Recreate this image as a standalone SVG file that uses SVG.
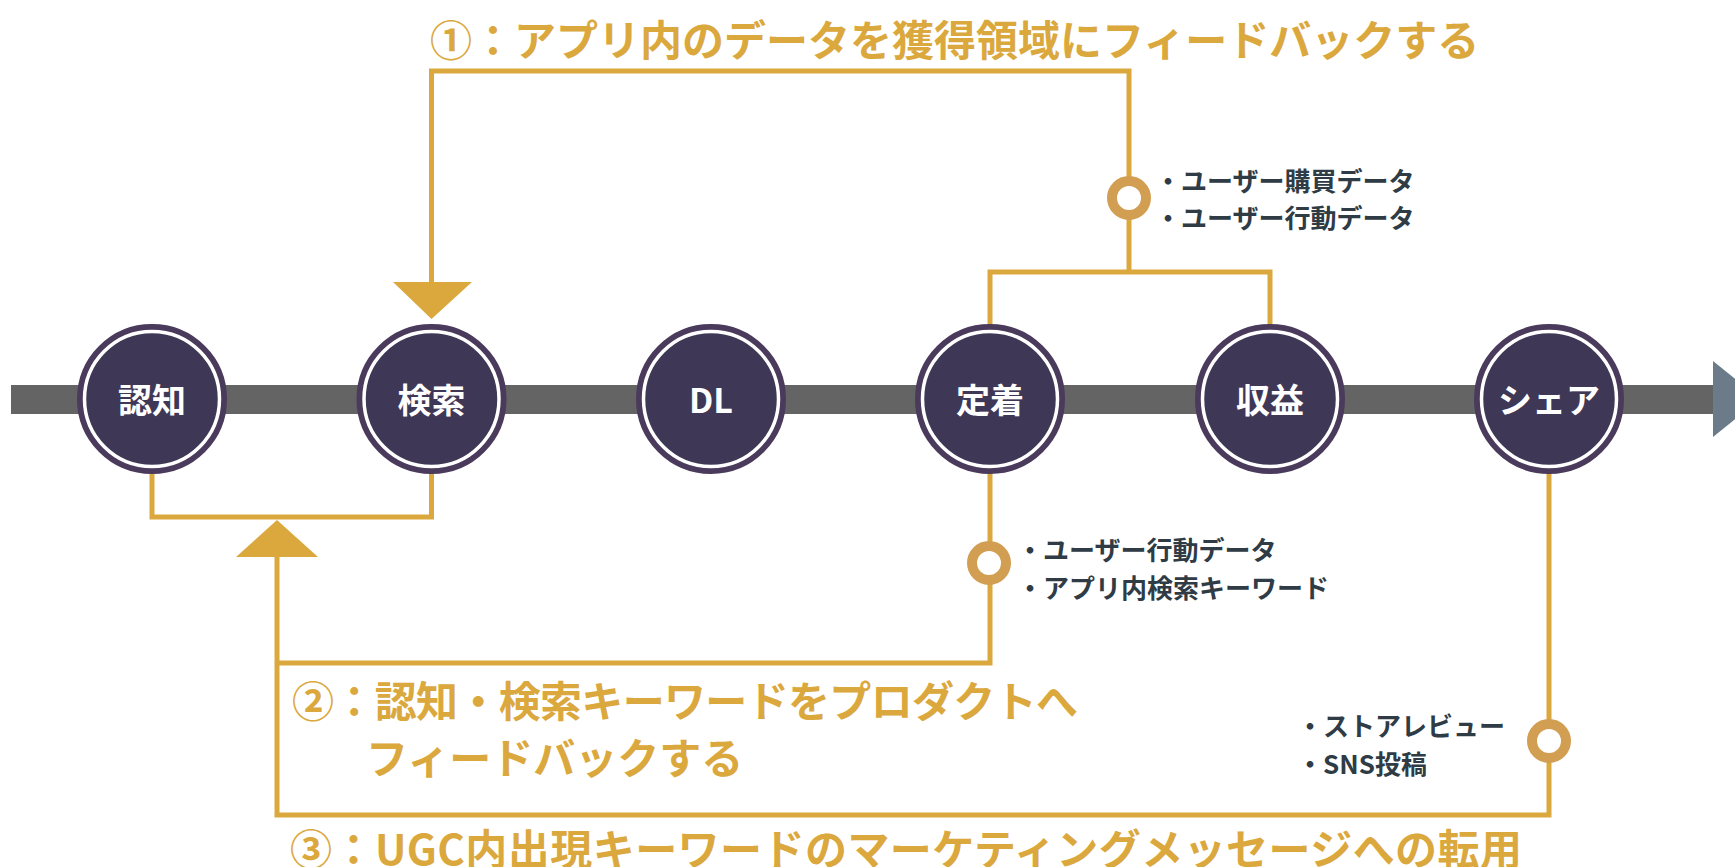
<svg xmlns="http://www.w3.org/2000/svg" width="1735" height="867" viewBox="0 0 1735 867">
<style>
.ln{fill:none;stroke:#DBA83E;stroke-width:5}
.tri{fill:#DBA83E}
.ring{fill:#fff;stroke:#D29E52;stroke-width:10}
.outer{fill:#3F3756;stroke:#4A3A5B;stroke-width:6}
.inner{fill:none;stroke:#fff;stroke-width:3.5}
.nl{font-family:"Noto Sans CJK JP","Noto Sans",sans-serif;font-weight:700;font-size:34px;fill:#fff;text-anchor:middle;dominant-baseline:central}
.ttl{font-family:"Noto Sans CJK JP","Noto Sans",sans-serif;font-weight:700;font-size:42px;fill:#DBA83E;dominant-baseline:central}
.sm{font-family:"Noto Sans CJK JP","Noto Sans",sans-serif;font-weight:700;font-size:26px;fill:#2F3B45;dominant-baseline:central}
</style>
<rect width="1735" height="867" fill="#fff"/>
<g id="timeline">
<rect x="11" y="385" width="1704" height="29" fill="#646464"/>
<polygon points="1713,361 1760,399 1713,437" fill="#6B7B89"/>
</g>
<g id="connectors">
<path class="ln" d="M431.5 284 V71 H1129 V272"/>
<path class="ln" d="M990 330 V272 H1270 V330"/>
<path class="ln" d="M152 470 V517 H431.5 V470"/>
<path class="ln" d="M277 555 V815 H1549 V470"/>
<path class="ln" d="M990 470 V663 H277"/>
<polygon class="tri" points="393,282 472,282 431.5,319"/>
<polygon class="tri" points="236,557 318,557 277,520"/>
<circle class="ring" cx="1129" cy="198" r="17"/>
<circle class="ring" cx="989" cy="563" r="17"/>
<circle class="ring" cx="1549" cy="741" r="17"/>
</g>
<g id="n1"><circle class="outer" cx="152" cy="399" r="72"/><circle class="inner" cx="152" cy="399" r="67.5"/><text class="nl" x="152" y="398">認知</text></g>
<g id="n2"><circle class="outer" cx="431.5" cy="399" r="72"/><circle class="inner" cx="431.5" cy="399" r="67.5"/><text class="nl" x="431.5" y="398">検索</text></g>
<g id="n3"><circle class="outer" cx="711" cy="399" r="72"/><circle class="inner" cx="711" cy="399" r="67.5"/><text class="nl" x="711" y="398">DL</text></g>
<g id="n4"><circle class="outer" cx="990" cy="399" r="72"/><circle class="inner" cx="990" cy="399" r="67.5"/><text class="nl" x="990" y="398">定着</text></g>
<g id="n5"><circle class="outer" cx="1270" cy="399" r="72"/><circle class="inner" cx="1270" cy="399" r="67.5"/><text class="nl" x="1270" y="398">収益</text></g>
<g id="n6"><circle class="outer" cx="1549" cy="399" r="72"/><circle class="inner" cx="1549" cy="399" r="67.5"/><text class="nl" x="1549" y="398">シェア</text></g>
<g id="labels">
<text class="ttl" x="430" y="37">①：アプリ内のデータを獲得領域にフィードバックする</text>
<text class="ttl" x="292" y="698" textLength="786" lengthAdjust="spacing">②：認知・検索キーワードをプロダクトへ</text>
<text class="ttl" x="366" y="755">フィードバックする</text>
<text class="ttl" x="290" y="846" textLength="1232" lengthAdjust="spacing">③：UGC内出現キーワードのマーケティングメッセージへの転用</text>
<text class="sm" x="1155" y="179">・ユーザー購買データ</text>
<text class="sm" x="1155" y="216">・ユーザー行動データ</text>
<text class="sm" x="1017" y="548">・ユーザー行動データ</text>
<text class="sm" x="1017" y="586">・アプリ内検索キーワード</text>
<text class="sm" x="1297" y="724">・ストアレビュー</text>
<text class="sm" x="1297" y="762">・SNS投稿</text>
</g>
</svg>
